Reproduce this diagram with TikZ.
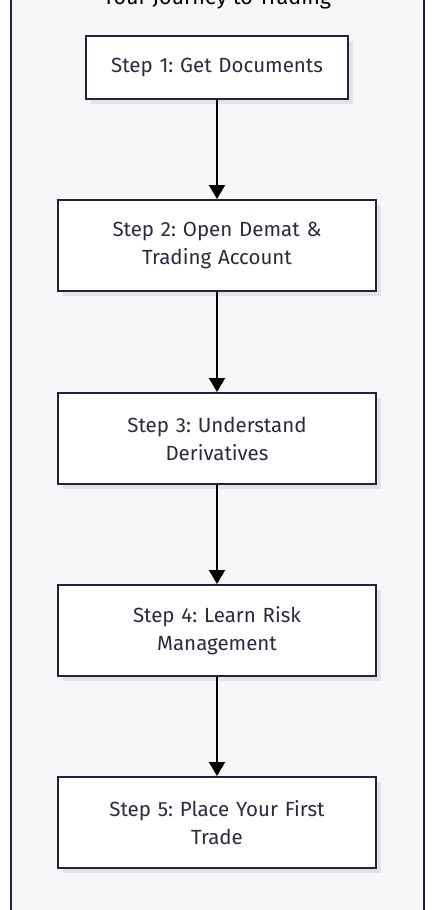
\documentclass[tikz,border=0pt]{standalone}
\usepackage{fontspec}
\setmainfont{Fira Sans}
\frenchspacing
\usetikzlibrary{arrows.meta}
\definecolor{frameline}{HTML}{23223A}
\definecolor{framebg}{HTML}{F7F7FA}
\definecolor{txt}{HTML}{2A2A40}
\definecolor{shadowc}{HTML}{E2E2E8}
\tikzset{
  stepbox/.style={draw=frameline, line width=2pt, fill=white, minimum width=318pt, minimum height=91pt,
    text width=300pt, align=center, font=\fontsize{20.5}{28}\selectfont, text=txt,
    inner sep=0pt},
  conn/.style={line width=2pt, draw=black, -{Triangle[length=14pt,width=16pt]}},
}
\begin{document}
\begin{tikzpicture}[x=1pt,y=-1pt]
\useasboundingbox (0,0) rectangle (436,910);
\fill[white] (0,0) rectangle (436,910);
\draw[frameline, line width=2pt, fill=framebg] (11,-60) rectangle (424,970);
\node[text=black, font=\fontsize{21.5}{24}\selectfont, anchor=base] (title) at (217,5) {Your Journey to Trading};
% shadows
\fill[shadowc] (91,41) rectangle (353,104);
\foreach \t in {200,393,585,777} {\fill[shadowc] (63,\t+5) rectangle (381,\t+96);}
\node[stepbox, minimum width=262pt, minimum height=63pt, text width=250pt] (s1) at (217,67.5) {Step 1: Get Documents};
\node[stepbox] (s2) at (217,245.5) {Step 2: Open Demat \&\\Trading Account};
\node[stepbox] (s3) at (217,438.5) {Step 3: Understand\\Derivatives};
\node[stepbox] (s4) at (217,630.5) {Step 4: Learn Risk\\Management};
\node[stepbox] (s5) at (217,822.5) {Step 5: Place Your First\\Trade};
\draw[conn] (s1) -- (s2);
\draw[conn] (s2) -- (s3);
\draw[conn] (s3) -- (s4);
\draw[conn] (s4) -- (s5);
\end{tikzpicture}
\end{document}
